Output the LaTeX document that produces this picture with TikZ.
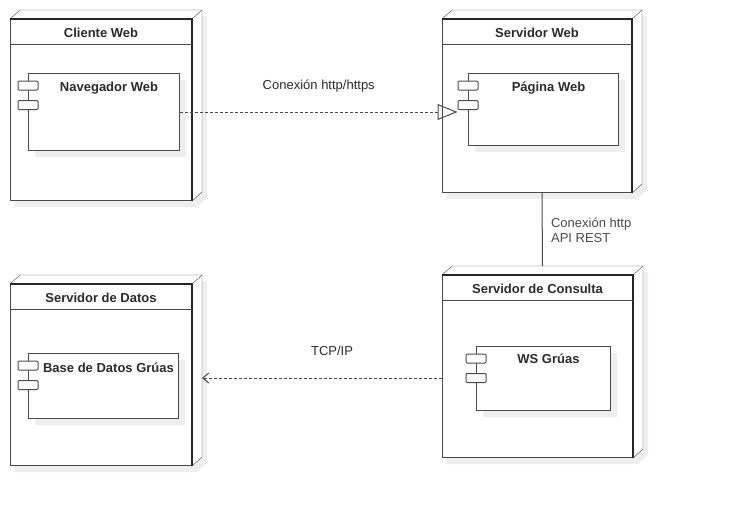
\documentclass[tikz,border=0pt]{standalone}
\usepackage{fontspec}
\setmainfont{Liberation Sans}
\usetikzlibrary{positioning,arrows.meta,backgrounds,shadows}

\definecolor{linegray}{HTML}{4A4A4A}
\definecolor{edgedark}{HTML}{262626}
\definecolor{shadowgray}{HTML}{EEEEEE}
\definecolor{textgray}{HTML}{2B2B2B}

\begin{document}
\begin{tikzpicture}[x=1pt, y=-1pt, line width=1pt,
  font=\fontsize{13}{15}\selectfont, text=textgray,
  front/.style={draw=linegray, fill=white, inner sep=0pt, anchor=north west},
  box3d/.style={draw=linegray, fill=white},
  comp/.style={draw=linegray, fill=white, inner sep=0pt, anchor=north west,
    drop shadow={shadow xshift=6pt, shadow yshift=-6pt, fill=shadowgray, opacity=1}},
  port/.style={draw=linegray, fill=white, inner sep=0pt, minimum width=20pt,
    minimum height=9pt, rounded corners=1pt},
  conn/.style={draw=linegray, dash pattern=on 3pt off 2pt},
  title/.style={font=\fontsize{13}{15}\selectfont\bfseries}]
\useasboundingbox (0,0) rectangle (730,506);

% nodes (front faces)
\node[front, minimum width=181pt, minimum height=181pt] (cliente) at (10,19) {};
\node[front, minimum width=189pt, minimum height=173pt] (web) at (442,19) {};
\node[front, minimum width=181pt, minimum height=181pt] (datos) at (10,284) {};
\node[front, minimum width=190pt, minimum height=182pt] (consulta) at (442,275) {};

% depth and shadow of the nodes
\begin{scope}[on background layer]
\foreach \n in {cliente,web,datos,consulta}{
  \fill[shadowgray] ([shift={(5,6)}]\n.north west) -- ++(10,-9)
    -- ([shift={(15,-3)}]\n.north east) -- ([shift={(15,-3)}]\n.south east)
    -- ([shift={(5,6)}]\n.south east) -- ([shift={(5,6)}]\n.south west) -- cycle;
  \filldraw[box3d] (\n.north west) -- ++(10,-9) -- ([shift={(10,-9)}]\n.north east)
    -- ([shift={(10,-9)}]\n.south east) -- (\n.south east) -- cycle;
  \draw[linegray] (\n.north east) -- ++(10,-9);
}
\end{scope}

% titles
\foreach \n/\t in {cliente/Cliente Web, web/Servidor Web, datos/Servidor de Datos,
  consulta/Servidor de Consulta}{
  \draw[edgedark, line width=1.4pt] (\n.north west) -- (\n.north east) -- (\n.south east);
  \draw[linegray] ([yshift=-25pt]\n.north west) -- ([yshift=-25pt]\n.north east);
  \node[title] (\n title) at ([yshift=-14pt]\n.north) {\t};
}

% components
\node[comp, minimum width=151pt, minimum height=77pt] (nav) at (28,73) {};
\node[comp, minimum width=150pt, minimum height=72pt] (pag) at (468,73) {};
\node[comp, minimum width=150pt, minimum height=65pt] (base) at (28,353) {};
\node[comp, minimum width=134pt, minimum height=64pt] (ws) at (476,346) {};

\foreach \c/\t/\dy in {nav/Navegador Web/15.5, pag/Página Web/15.5,
  base/Base de Datos Grúas/14.5, ws/WS Grúas/12.5}{
  \node[port] (\c p1) at ([yshift=-12.5pt]\c.north west) {};
  \node[port] (\c p2) at ([yshift=-32pt]\c.north west) {};
  \node[title] (\c label) at ([xshift=5pt, yshift=-\dy pt]\c.north) {\t};
}

% connectors
\draw[conn, -{Triangle[open, length=20pt, width=16pt, line width=1pt]}]
  (nav.east) -- node[above=16pt] {Conexión http/https} (nav.east -| pagp2.west);
\draw[linegray] ([xshift=5pt]web.south) --
  node[right=5pt, align=left, yshift=-1pt] {Conexión http\\API REST}
  ([xshift=5pt, yshift=9pt]consulta.north);
\draw[conn, -{Straight Barb[length=6pt, width=10pt, line width=1pt]}]
  (consulta.west |- wsp2) -- node[above=19pt, xshift=10pt] {TCP/IP}
  ([xshift=10pt]datos.east |- wsp2);
\end{tikzpicture}
\end{document}
